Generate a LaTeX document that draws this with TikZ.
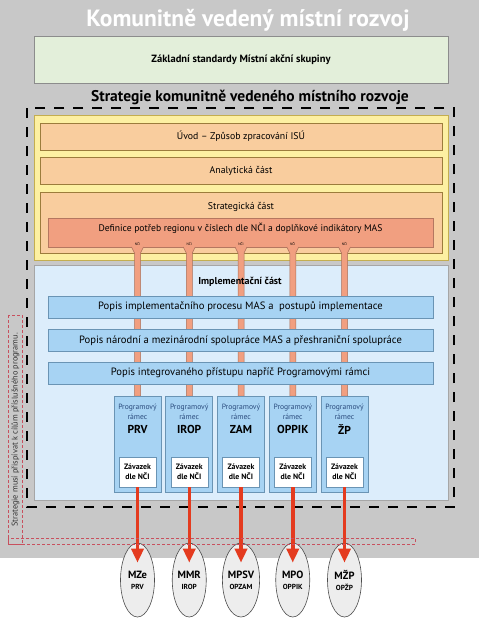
\documentclass[tikz,border=0pt]{standalone}
\usepackage{fontspec}
\setmainfont{PT Sans}
\usetikzlibrary{arrows.meta,shapes.geometric}

\definecolor{bggrey}{HTML}{C8C8C8}
\definecolor{stdgreen}{HTML}{E3EFDA}
\definecolor{stryellow}{HTML}{FDF0A2}
\definecolor{yellowline}{HTML}{C4AE50}
\definecolor{partorange}{HTML}{F9CD9E}
\definecolor{partline}{HTML}{9C7C3C}
\definecolor{defsalmon}{HTML}{F19F80}
\definecolor{implblue}{HTML}{DCEDFB}
\definecolor{barblue}{HTML}{A7D3F3}
\definecolor{barline}{HTML}{6A94B4}
\definecolor{progtext}{HTML}{2B4C7E}
\definecolor{nciarrow}{HTML}{E43B1F}
\definecolor{ellgrey}{HTML}{EDEDED}
\definecolor{notered}{HTML}{C8505E}

\tikzset{
  part/.style={draw=partline, fill=partorange, line width=0.6pt,
    minimum width=402, minimum height=27, font=\fontsize{9.8}{10}\selectfont},
  bar/.style={draw=barline, fill=barblue, line width=0.6pt,
    minimum width=385, minimum height=22, font=\fontsize{10.6}{11}\selectfont},
  nci/.style={draw=defsalmon!70!black, fill=defsalmon, line width=0.5pt},
  progbox/.style={draw=barline, fill=barblue, line width=0.6pt,
    minimum width=47, minimum height=96},
  zavbox/.style={draw=barline, fill=white, line width=0.5pt,
    minimum width=37, minimum height=30, align=center,
    font=\bfseries\fontsize{7.8}{10}\selectfont},
  redarrow/.style={nciarrow, line width=3.5pt, -{Triangle[width=12pt,length=14pt]}},
  ministry/.style={ellipse, draw=black!70, fill=ellgrey, line width=0.6pt,
    minimum width=34, minimum height=74, inner sep=0pt, align=center}
}

\begin{document}
\begin{tikzpicture}[x=1pt,y=-1pt]
\useasboundingbox (0,0) rectangle (479,618);
\fill[bggrey] (0,0) rectangle (479,558);

% heading
\node[white, font=\bfseries\fontsize{23.5}{24}\selectfont] (titel) at (248,20) {Komunitně vedený místní rozvoj};
\node[draw=black!45, fill=stdgreen, line width=0.6pt, minimum width=414, minimum height=47,
  font=\bfseries\fontsize{10.5}{11}\selectfont] (standard) at (241,59.5) {Základní standardy Místní akční skupiny};
\node[font=\bfseries\fontsize{15.5}{16}\selectfont] (strategie) at (250,97) {Strategie komunitně vedeného místního rozvoje};
\draw[line width=2.5pt, dash pattern=on 10pt off 9pt] (27,108) rectangle (454,507);

% strategy part
\node[draw=yellowline, fill=stryellow, line width=0.6pt, minimum width=414, minimum height=145] (yellow) at (241,187.5) {};
\node[part] (uvod) at (241,136.5) {Úvod – Způsob zpracování ISÚ};
\node[part] (analyza) at (241,170.5) {Analytická část};
\node[part, minimum height=61] (strat) at (241,222.5) {};
\node[font=\fontsize{9.8}{10}\selectfont] (strattext) at (241,207) {Strategická část};
\node[draw=defsalmon!75!black, fill=defsalmon, line width=0.6pt, minimum width=385, minimum height=29] (def) at (240.5,232.5) {};
\node[font=\fontsize{9.6}{10}\selectfont] (deftext) at (240.5,228.5) {Definice potřeb regionu v číslech dle NČI a doplňkové indikátory MAS};

% implementation part
\node[draw=black!35, fill=implblue, line width=0.6pt, minimum width=414, minimum height=235] (impl) at (241,382.5) {};

% NCI columns
\foreach \i in {1,...,5}{
  \pgfmathsetmacro{\x}{137.5+51.75*(\i-1)}
  \path[nci] (\x-6,247) -- (\x-3,253) -- (\x-3,396) -- (\x+3,396) -- (\x+3,253) -- (\x+6,247);
  \node[font=\fontsize{3.5}{4}\selectfont, inner sep=0pt] (nci\i) at (\x,243.5) {NČI};
}

\node[font=\bfseries\fontsize{10}{11}\selectfont] (impltext) at (240,282) {Implementační část};
\node[bar] (popis1) at (240.5,307) {Popis implementačního procesu MAS a\ \ postupů implementace};
\node[bar] (popis2) at (240.5,340.5) {Popis národní a mezinárodní spolupráce MAS a přeshraniční spolupráce};
\node[bar] (popis3) at (240.5,373) {Popis integrovaného přístupu napříč Programovými rámci};

% programs and ministries
\foreach \prog/\min/\op [count=\i] in {PRV/MZe/PRV, IROP/MMR/IROP, ZAM/MPSV/OPZAM, OPPIK/MPO/OPPIK, ŽP/MŽP/OPŽP}{
  \pgfmathsetmacro{\x}{137.5+51.75*(\i-1)}
  \node[progbox] (prog\i) at (\x,444) {};
  \node[progtext, align=center, font=\fontsize{7.6}{9.5}\selectfont] (ramec\i) at (\x,412) {Programový\\rámec};
  \node[font=\bfseries\fontsize{11.5}{12}\selectfont] (name\i) at (\x,429) {\prog};
  \node[zavbox] (zav\i) at (\x,472) {Závazek\\dle NČI};
  \node[ministry] (ell\i) at (\x,580) {{\bfseries\fontsize{10.5}{11}\selectfont \min}\\[-1pt]{\bfseries\fontsize{7.3}{8}\selectfont \op}};
  \draw[redarrow] (zav\i.south) -- ([yshift=-20pt]ell\i.north);
}

% note on the left
\draw[notered, densely dashed, line width=0.4pt] (8,315) rectangle (22.5,544);
\draw[notered, densely dashed, line width=0.4pt] (8,538) rectangle (415,544);
\node[rotate=90, font=\fontsize{8.3}{9}\selectfont, black!80] (note) at (15.5,430) {Strategie musí přispívat k cílům příslušného programu.};
\end{tikzpicture}
\end{document}
